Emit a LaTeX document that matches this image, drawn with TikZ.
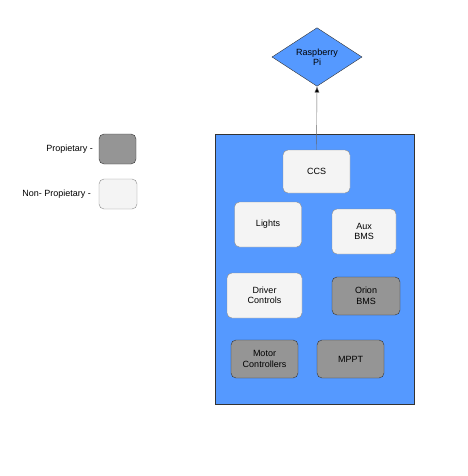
\documentclass[tikz,border=0pt]{standalone}
\usepackage{fontspec}
\setmainfont{Liberation Sans}
\usetikzlibrary{shapes.geometric,arrows.meta}
\definecolor{boardblue}{HTML}{5599FF}
\definecolor{propgray}{HTML}{959595}
\definecolor{openwhite}{HTML}{F4F4F4}
\begin{document}
\begin{tikzpicture}[
  x=1pt, y=-1pt,
  font=\fontsize{9}{10.5}\selectfont,
  part/.style={rectangle, rounded corners=5pt, align=center, inner sep=0pt},
  prop/.style={part, draw=black!80, fill=propgray},
  open/.style={part, draw=black!45, fill=openwhite},
  lbl/.style={anchor=east, inner sep=0pt}
]
\useasboundingbox (0,0) rectangle (467,476);
% car board
\node[rectangle, draw=black!80, fill=boardblue, minimum width=199pt, minimum height=270pt, inner sep=0pt] (board) at (314.5,269) {};
\node[diamond, draw=black!80, fill=boardblue, minimum width=90pt, minimum height=58pt, inner sep=0pt, align=center] (pi) at (317,57) {Raspberry\\Pi};
% modules
\node[open, minimum width=67pt, minimum height=43pt] (ccs) at (316.5,171.5) {CCS};
\node[open, minimum width=67pt, minimum height=45pt] (lights) at (268,224.5) {Lights};
\node[open, minimum width=64pt, minimum height=45pt] (aux) at (364,231.5) {Aux\\BMS};
\node[open, minimum width=75pt, minimum height=45pt] (driver) at (264.5,295.5) {Driver\\Controls};
\node[prop, minimum width=68pt, minimum height=38pt] (orion) at (366,296) {Orion\\BMS};
\node[prop, minimum width=67pt, minimum height=38pt] (motor) at (264.5,359) {Motor\\Controllers};
\node[prop, minimum width=67pt, minimum height=38pt] (mppt) at (350.5,359) {MPPT};
\draw[-{Latex[length=6pt,width=5pt,fill=black]}, black!60] (ccs.north) -- (pi.south);
% legend
\node[prop, minimum width=37pt, minimum height=30pt] (keyprop) at (117.5,149) {};
\node[open, minimum width=38pt, minimum height=30pt] (keyopen) at (118,194) {};
\node[lbl] (keyproptxt) at (93,149) {Propietary -};
\node[lbl] (keyopentxt) at (91,194) {Non- Propietary -};
\end{tikzpicture}
\end{document}
